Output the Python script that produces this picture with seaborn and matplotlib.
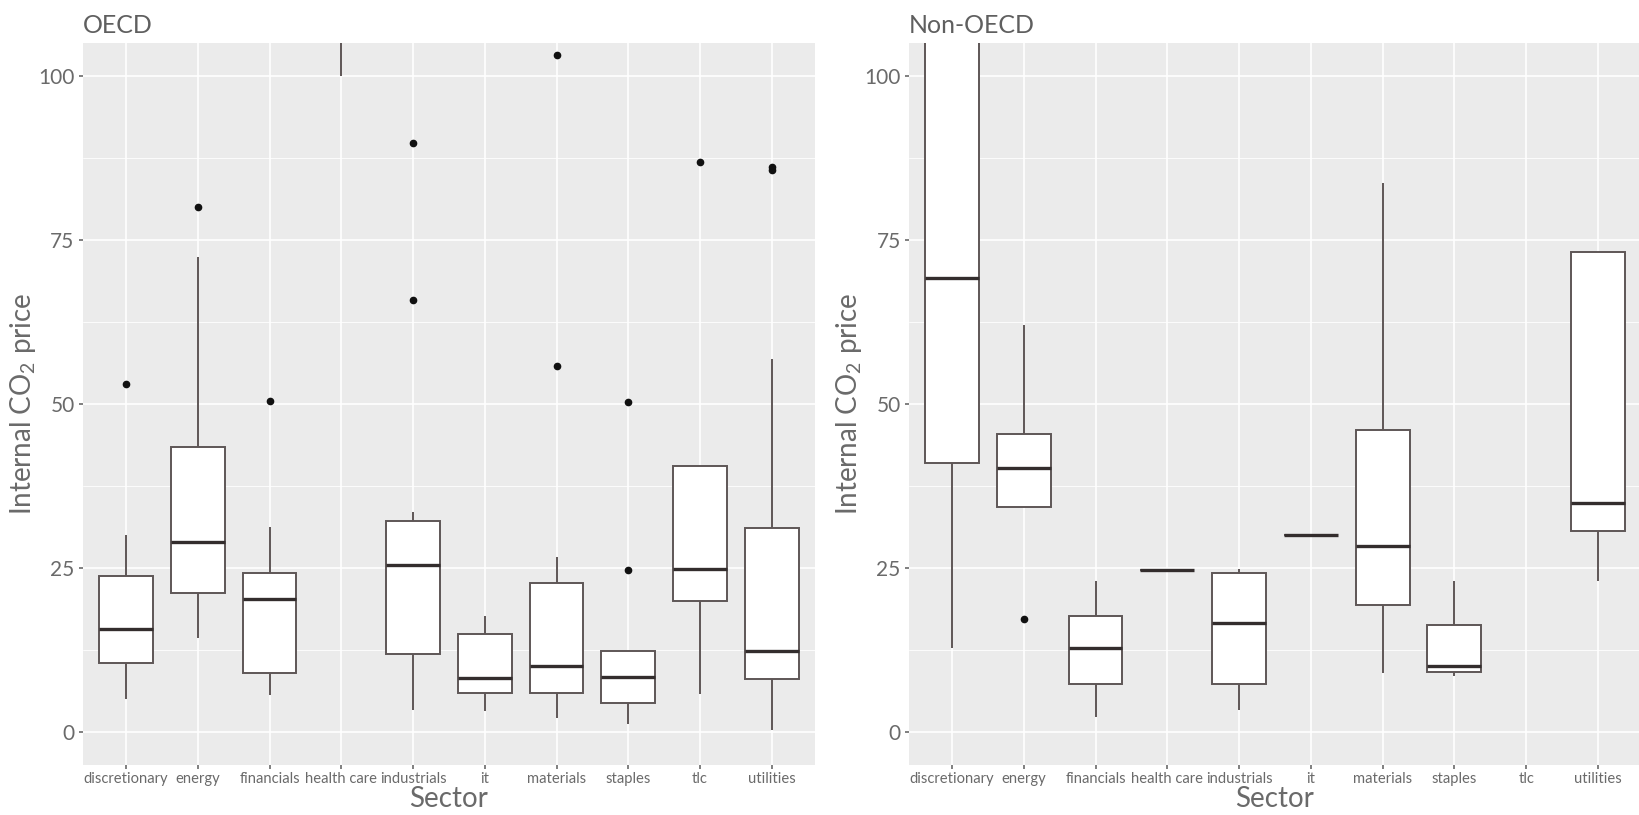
import numpy as np
import pandas as pd
import matplotlib.pyplot as plt
import seaborn as sns
from matplotlib.ticker import MultipleLocator

# Sectors on the x axis
# ==============================================================================
sectors = ["discretionary", "energy", "financials", "health care", "industrials",
           "it", "materials", "staples", "tlc", "utilities"]

# Internal CO2 prices (OECD companies)
# ==============================================================================
oecd_discretionary = [5.1, 10.5, 10.5, 15.7, 15.7, 23.8, 23.8, 30.0, 53.0]
oecd_energy        = [14.4, 21.2, 21.2, 29.0, 29.0, 43.4, 43.4, 72.4, 80.0]
oecd_financials    = [5.7, 9.0, 9.0, 20.3, 20.3, 24.2, 24.2, 31.2, 50.4]
oecd_health_care   = [100.0, 120.0, 150.0, 180.0, 200.0]
oecd_industrials   = [3.4, 11.9, 11.9, 11.9, 25.5, 25.5, 25.5, 32.1, 32.1, 32.1, 33.6, 65.8, 89.8]
oecd_it            = [3.2, 5.9, 8.2, 14.9, 17.7]
oecd_materials     = [2.2, 5.9, 5.9, 5.9, 10.1, 10.1, 10.1, 22.8, 22.8, 22.8, 26.7, 55.8, 103.1]
oecd_staples       = [1.3, 4.5, 4.5, 8.4, 8.4, 12.3, 12.3, 24.7, 50.3]
oecd_tlc           = [5.8, 20.0, 20.0, 24.9, 24.9, 40.6, 40.6, 40.6, 86.9]
oecd_utilities     = [0.3, 8.1, 8.1, 8.1, 12.4, 12.4, 12.4, 31.1, 31.1, 31.1, 56.8, 85.6, 86.1]

# Internal CO2 prices (Non-OECD companies)
# ==============================================================================
non_discretionary = [12.8, 41.0, 69.2, 125.0, 150.0]
non_energy        = [17.3, 34.3, 34.3, 40.2, 40.2, 45.4, 45.4, 45.4, 62.0]
non_financials    = [2.3, 7.4, 12.8, 17.7, 23.0]
non_health_care   = [24.7]
non_industrials   = [3.4, 7.3, 16.6, 24.3, 24.8]
non_it            = [30.1]
non_materials     = [9.0, 19.4, 28.4, 46.0, 83.7]
non_staples       = [8.6, 9.1, 10.1, 16.4, 23.1]
non_tlc           = []
non_utilities     = [23.1, 30.7, 34.9, 73.1, 73.1]

oecd_groups = [oecd_discretionary, oecd_energy, oecd_financials, oecd_health_care,
               oecd_industrials, oecd_it, oecd_materials, oecd_staples, oecd_tlc,
               oecd_utilities]
non_groups = [non_discretionary, non_energy, non_financials, non_health_care,
              non_industrials, non_it, non_materials, non_staples, non_tlc,
              non_utilities]


def to_frame(groups):
    rows = [(s, v) for s, vals in zip(sectors, groups) for v in vals]
    return pd.DataFrame(rows, columns=["sector", "price"])


# Style (ggplot grey look)
# ==============================================================================
sns.set_theme(style="darkgrid", rc={
    "axes.facecolor": "#EBEBEB",
    "grid.color": "white",
    "axes.edgecolor": "none",
    "figure.facecolor": "white",
})
plt.rcParams["font.family"] = ["Lato", "DejaVu Sans"]
plt.rcParams["mathtext.fontset"] = "custom"
plt.rcParams["mathtext.rm"] = "Lato"
plt.rcParams["mathtext.it"] = "Lato"

text_grey = "#6a6a6a"
box_line = "#5e5656"


def panel(ax, df, title):
    sns.boxplot(
        data        = df,
        x           = "sector",
        y           = "price",
        order       = sectors,
        color       = "white",
        saturation  = 1,
        linecolor   = box_line,
        linewidth   = 1.4,
        width       = 0.75,
        showcaps    = False,
        whis        = 1.5,
        fliersize   = 4.5,
        flierprops  = dict(marker="o", markerfacecolor="#111111", markeredgecolor="#111111",
                           markersize=4.5),
        medianprops = dict(color="#332d2d", linewidth=2.4),
        ax          = ax,
    )
    ax.set_xlim(-0.6, 9.6)
    ax.set_ylim(-5, 105)
    ax.set_yticks([0, 25, 50, 75, 100])
    ax.yaxis.set_minor_locator(MultipleLocator(12.5))
    ax.grid(which="major", color="white", linewidth=1.2)
    ax.grid(which="minor", axis="y", color="white", linewidth=0.6)
    ax.set_axisbelow(True)
    ax.tick_params(axis="y", which="major", labelsize=15, colors=text_grey,
                   length=3, width=1.2, direction="out", pad=3, left=True)
    ax.tick_params(axis="x", which="major", labelsize=10.6, colors=text_grey,
                   length=3, width=1.2, direction="out", pad=2, bottom=True)
    ax.tick_params(which="minor", length=0)
    ax.set_xlabel("Sector", fontsize=20, color=text_grey, labelpad=0)
    ax.set_ylabel("Internal CO$_2$ price", fontsize=20, color=text_grey, labelpad=0)
    ax.set_title(title, loc="left", fontsize=18, color="#5f5f5f", pad=7)


fig = plt.figure(figsize=(16.39, 8.15), dpi=100)
ax1 = fig.add_axes([0.0506, 0.0613, 0.4466, 0.886])
ax2 = fig.add_axes([0.5546, 0.0613, 0.4466, 0.886])

panel(ax1, to_frame(oecd_groups), "OECD")
panel(ax2, to_frame(non_groups), "Non-OECD")

plt.savefig("out.png", dpi=100)
